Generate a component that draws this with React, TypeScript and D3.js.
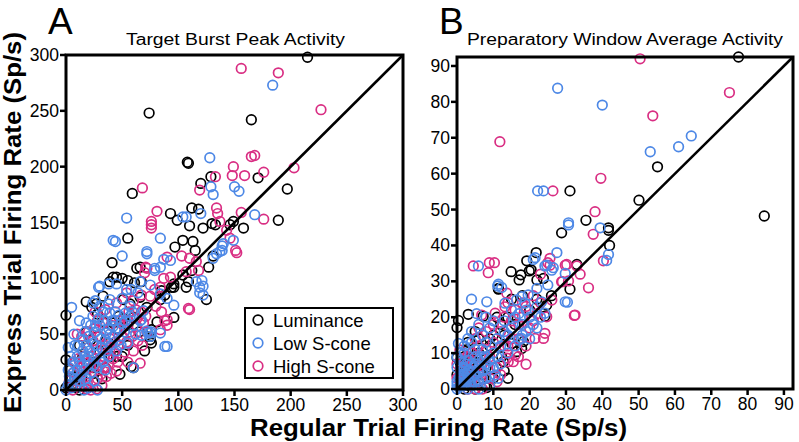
import React from 'react';
import * as d3 from 'd3';

type Pt = [number, number];

// panel A: target burst peak activity (regular, express)
const aLuminance: Pt[] = [
  [215, 298], [74, 248], [165, 242], [108, 204], [109, 203], [129, 191], [171, 190], [120, 185], [59, 176], [197, 180],
  [112, 163], [118, 162], [93, 158], [189, 152], [149, 151], [99, 152], [55, 136], [41, 114], [66, 110], [97, 128],
  [104, 134], [113, 133], [115, 125], [122, 145], [130, 149], [133, 148], [158, 145], [146, 148], [127, 110], [104, 103],
  [109, 97], [96, 92], [125, 81], [96, 65], [81, 61], [76, 54], [76, 42], [75, 48], [67, 97], [61, 96],
  [50, 100], [39, 97], [42, 101], [18, 79], [33, 84], [0, 67], [0, 27], [27, 77], [23, 74], [47, 66],
  [51, 64], [75, 45], [45, 101], [55, 98], [63, 109], [94, 92], [96, 95], [84, 81], [85, 89], [66, 83],
  [72, 74], [51, 81], [57, 77], [107, 92], [112, 107], [131, 120], [110, 147], [45, 30], [58, 21], [24, 20],
  [8, 11], [0, 2], [9, 2], [5, 10], [2, 4], [20, 22], [15, 30], [30, 35], [40, 30], [28, 48],
  [35, 20], [55, 40], [60, 20], [45, 55], [12, 40], [25, 15], [60, 65], [88, 85], [70, 35], [50, 30],
  [35, 60], [22, 45], [12, 0], [25, 25], [4, 18], [14, 10], [38, 42], [42, 60], [55, 58], [65, 52],
  [32, 10], [48, 14], [18, 52], [28, 68],
];
const aLowS: Pt[] = [
  [184, 273], [128, 208], [129, 182], [150, 182], [154, 178], [131, 175], [54, 154], [104, 155], [107, 155], [120, 158],
  [168, 157], [42, 134], [84, 136], [50, 120], [72, 124], [72, 122], [84, 110], [93, 116], [79, 107], [134, 122],
  [139, 125], [140, 131], [149, 134], [116, 97], [119, 92], [122, 85], [75, 94], [84, 86], [90, 82], [96, 76],
  [90, 39], [88, 39], [67, 49], [75, 51], [29, 92], [54, 90], [66, 97], [58, 90], [50, 82], [64, 87],
  [5, 74], [24, 78], [18, 60], [24, 66], [27, 57], [17, 52], [39, 69], [47, 67], [53, 69], [57, 66],
  [50, 60], [42, 57], [36, 51], [67, 63], [73, 51], [76, 52], [84, 51], [30, 93], [44, 133], [38, 95],
  [45, 95], [60, 20], [119, 87], [122, 93], [121, 98], [131, 118], [137, 124], [139, 129], [69, 71], [66, 62],
  [72, 53], [75, 48], [38, 77], [39, 81], [30, 75], [79, 109], [87, 117], [2, 5], [5, 2], [8, 10],
  [10, 18], [12, 25], [15, 35], [18, 40], [20, 30], [22, 15], [25, 8], [28, 20], [30, 28], [32, 38],
  [35, 45], [38, 30], [40, 40], [42, 48], [45, 35], [28, 0], [20, 2], [3, 12], [6, 25], [10, 30],
  [14, 22], [18, 10], [24, 42], [26, 52], [30, 58], [34, 62], [22, 58], [48, 45], [52, 52], [15, 45],
  [8, 40], [4, 30], [38, 55], [44, 62], [60, 58], [55, 42], [35, 18], [12, 8], [0, 0], [2, 18],
  [16, 0], [24, 22], [3, 20], [6, 15], [9, 5], [13, 13], [16, 18], [19, 26], [21, 35], [25, 32],
  [27, 40], [31, 46], [33, 25], [36, 35], [39, 50], [41, 62], [44, 70], [47, 55], [49, 40], [53, 62],
  [57, 75], [59, 70], [62, 50], [20, 48], [17, 30], [11, 40], [7, 50], [2, 38], [29, 64], [33, 70],
  [26, 80], [12, 62],
];
const aHighS: Pt[] = [
  [156, 288], [189, 284], [227, 251], [165, 209], [168, 210], [149, 200], [203, 199], [148, 192], [159, 192], [176, 195],
  [133, 191], [119, 179], [68, 181], [134, 163], [135, 158], [81, 160], [156, 159], [176, 153], [76, 151], [76, 148],
  [76, 145], [71, 110], [103, 120], [110, 118], [90, 119], [137, 151], [143, 143], [146, 136], [151, 125], [152, 123],
  [116, 115], [118, 107], [107, 106], [109, 73], [110, 72], [87, 100], [93, 101], [84, 92], [90, 63], [88, 62],
  [84, 54], [90, 58], [54, 87], [67, 85], [75, 84], [79, 90], [26, 70], [33, 60], [45, 54], [57, 52],
  [63, 57], [69, 60], [72, 52], [54, 43], [50, 48], [44, 43], [39, 36], [33, 36], [66, 24], [45, 17],
  [35, 20], [26, 23], [18, 1], [27, 1], [70, 105], [72, 109], [5, 3], [10, 8], [14, 4], [18, 12],
  [22, 20], [26, 28], [30, 22], [34, 30], [38, 24], [16, 30], [12, 20], [20, 38], [24, 44], [28, 10],
  [36, 12], [42, 28], [8, 25], [40, 15], [46, 25], [52, 34], [30, 48], [20, 52], [14, 48], [48, 62],
  [56, 70], [60, 80], [62, 72], [45, 78], [35, 72], [28, 62], [18, 24], [55, 25], [60, 35], [64, 44],
  [10, 50], [6, 0], [22, 0], [32, 4], [3, 8], [7, 16], [11, 28], [15, 16], [19, 6], [23, 30],
  [27, 36], [31, 14], [35, 40], [39, 46], [43, 34], [47, 40], [51, 58], [55, 62], [59, 48], [63, 64],
  [67, 70], [71, 66], [40, 58], [25, 55], [68, 40], [80, 75], [85, 70],
];

// panel B: preparatory window average activity (regular, express)
const bLuminance: Pt[] = [
  [77.5, 92.5], [55.2, 61.9], [31.1, 55.2], [50.1, 52.6], [84.6, 48.2], [35.5, 47], [41.7, 44.9], [41.7, 44.2], [28.8, 43.5], [42, 40],
  [21.8, 38], [19.2, 35.7], [19.9, 32.9], [33, 34.7], [31.1, 27.8], [14.9, 32.7], [11.4, 27.8], [3.1, 20.8], [0.4, 19.1], [0, 17.1],
  [0, 8.7], [8.2, 0.4], [20.4, 33.2], [17.6, 31.8], [17.1, 30.4], [11.4, 28], [7.2, 20.3], [22, 30.4], [23.8, 30.8], [24.7, 23.4],
  [24.2, 20.3], [18.3, 13.2], [17.8, 11.3], [16.4, 10.4], [15.1, 12.7], [12.3, 9], [12.8, 7.6], [7.7, 0.8], [1, 2], [2, 5],
  [3, 1], [4, 8], [5, 3], [6, 10], [8, 6], [9, 12], [10, 15], [12, 18], [14, 20], [6, 14],
  [3, 11], [2, 0], [5, 0], [0, 4], [20, 22], [22, 25], [26, 26], [16, 18], [13, 5], [10, 3],
  [7, 4], [1, 7], [3, 13], [5, 16], [9, 14], [11, 20], [13, 15], [15, 25], [18, 26], [14, 3],
  [2, 9], [4, 4], [6, 7],
];
const bLowS: Pt[] = [
  [27.7, 83.8], [40, 79.1], [64.5, 70.5], [61, 67.5], [53.2, 66.1], [22.2, 55.2], [23.8, 55.2], [30.7, 46.3], [30.7, 45.7], [39.4, 44.9],
  [41.7, 37.5], [41.2, 35.8], [21, 36.1], [21.5, 36.6], [27.5, 38], [24.2, 34.3], [26.5, 33.8], [11.4, 29.2], [5.9, 34.3], [4, 25],
  [30.4, 24.2], [24.7, 34.5], [26.1, 33.1], [29.8, 32.2], [8.2, 24.3], [11.2, 28.7], [12.3, 28.3], [13.2, 23.9], [16.4, 24.8], [17.8, 25.7],
  [19.6, 26.2], [18.7, 23.9], [22, 22.9], [23.3, 24.3], [24.2, 21.1], [29.8, 24.3], [17.8, 14.1], [16.9, 13.6], [10.5, 3.9], [11.4, 3],
  [5.4, 21], [0.4, 12.7], [0, 0], [1, 1], [2, 2], [3, 3], [1, 4], [2, 6], [4, 5], [5, 7],
  [3, 8], [6, 2], [7, 5], [0, 6], [1, 8], [4, 1], [5, 4], [2, 10], [6, 8], [8, 9],
  [0, 2], [3, 0], [6, 0], [7, 11], [9, 6], [10, 10], [12, 12], [14, 15], [15, 17], [11, 14],
  [13, 19], [16, 20], [18, 18], [20, 20], [19, 16], [21, 18], [9, 17], [7, 15], [4, 13], [22, 28],
  [25, 29], [15, 22], [13, 16], [9, 1], [8, 3], [1, 6], [3, 5], [4, 3], [2, 1], [5, 9],
  [0.5, 3], [1.5, 5], [2.5, 7], [3.5, 2], [4.5, 6], [0, 9], [1, 10], [2, 12], [3, 14], [5, 11],
  [6, 6], [7, 9], [8, 13], [9, 8], [10, 6], [11, 9], [12, 7], [4, 16], [6, 18], [8, 20],
  [10, 19], [14, 10], [16, 12], [18, 15], [20, 14], [22, 17], [17, 21], [19, 22], [23, 20], [0.5, 0.5],
  [1.5, 2.5], [3, 4], [4, 7], [5, 2], [2, 4], [1, 3], [0, 1], [6, 5], [7, 3], [8, 7],
];
const bHighS: Pt[] = [
  [50.4, 92], [75, 82.6], [53.9, 76.1], [11.8, 68.9], [39.6, 58.7], [26.4, 55.2], [38, 49.4], [37.5, 43.1], [40.3, 35.7], [25, 35.2],
  [25.6, 34.5], [30.2, 34.7], [33.9, 32], [36.2, 28.2], [30.7, 30.1], [28.8, 29.9], [32.3, 20.5], [8.9, 35.2], [4.5, 34.3], [8.6, 32.4],
  [19, 6.9], [16, 9.5], [13.7, 8.6], [25.6, 36.4], [29.8, 34.5], [33, 34.3], [29, 29.9], [10.3, 35.2], [13.7, 26.7], [13.2, 22.9],
  [6.8, 20.6], [10.5, 21.1], [26.1, 24.8], [24.7, 20.1], [32.5, 20.6], [21.5, 14.1], [23.8, 14.1], [24.2, 15.5], [16.9, 9], [15.5, 7.6],
  [14.1, 7.6], [0.8, 10.9], [1, 1], [2, 3], [3, 6], [4, 2], [5, 9], [6, 4], [7, 7], [8, 11],
  [9, 3], [10, 13], [11, 6], [12, 16], [14, 12], [15, 19], [16, 22], [18, 20], [19, 23], [20, 17],
  [22, 21], [17, 14], [6, 12], [3, 0], [5, 0], [7, 0], [0, 3], [2, 8], [12, 4], [13, 20],
  [21, 26], [23, 32], [1, 5], [2, 2], [4, 10], [5, 14], [7, 3], [8, 16], [9, 9], [10, 18],
  [11, 2], [13, 12], [15, 14], [17, 18], [19, 12], [21, 19], [23, 24], [18, 24], [14, 24], [0, 7],
  [3, 9], [6, 17],
];

const ticksA = [0, 50, 100, 150, 200, 250, 300];
const ticksB = [0, 10, 20, 30, 40, 50, 60, 70, 80, 90];
const seriesNames = ['Luminance', 'Low S-cone', 'High S-cone'];
const seriesColors = ['#000000', '#4d88e6', '#d92e83'];

const FONT = '"Liberation Sans", Arial, Helvetica, sans-serif';

type PanelProps = {
  letter: string;
  title: string;
  titleX: number;
  titleLen: number;
  left: number;
  right: number;
  top: number;
  bottom: number;
  max: number;
  ticks: number[];
  series: Pt[][];
};

function Panel({ letter, title, titleX, titleLen, left, right, top, bottom, max, ticks, series }: PanelProps) {
  const x = d3.scaleLinear().domain([0, max]).range([left, right]);
  const y = d3.scaleLinear().domain([0, max]).range([bottom, top]);
  // draw order: black, pink, blue
  const order = [0, 2, 1];
  return (
    <g>
      <text x={left - 18} y={34} fontSize={37} fontFamily={FONT}>{letter}</text>
      <text x={titleX} y={45} fontSize={16} fontFamily={FONT} textLength={titleLen} lengthAdjust="spacingAndGlyphs">
        {title}
      </text>
      {order.map(si => (
        <g key={si}>
          {series[si].map((d, i) => (
            <circle key={i} cx={x(d[0])} cy={y(d[1])} r={4.8} fill="none"
              stroke={seriesColors[si]} strokeWidth={1.7} />
          ))}
        </g>
      ))}
      <line x1={x(0)} y1={y(0)} x2={x(max)} y2={y(max)} stroke="#000" strokeWidth={2.5} />
      <rect x={left} y={top} width={right - left} height={bottom - top} fill="none" stroke="#000" strokeWidth={3} />
      {ticks.map(t => (
        <g key={t}>
          <line x1={left - 6} x2={left} y1={y(t)} y2={y(t)} stroke="#000" strokeWidth={2.5} />
          <text x={left - 7} y={y(t) + 6} textAnchor="end" fontSize={17.5} fontFamily={FONT}>{t}</text>
          <line x1={x(t)} x2={x(t)} y1={bottom} y2={bottom + 6} stroke="#000" strokeWidth={2.5} />
          <text x={x(t)} y={bottom + 21} textAnchor="middle" fontSize={17.5} fontFamily={FONT}>{t}</text>
        </g>
      ))}
    </g>
  );
}

export default function App() {
  return (
    <svg width={799} height={442} style={{ position: 'absolute', left: 0, top: 0, background: '#fff' }}>
      <rect width={799} height={442} fill="#fff" />
      <Panel letter="A" title="Target Burst Peak Activity" titleX={126} titleLen={219}
        left={66} right={403} top={55} bottom={390} max={300} ticks={ticksA}
        series={[aLuminance, aLowS, aHighS]} />
      <Panel letter="B" title="Preparatory Window Average Activity" titleX={467} titleLen={316}
        left={457} right={793} top={57} bottom={389} max={92.5} ticks={ticksB}
        series={[bLuminance, bLowS, bHighS]} />

      {/* legend */}
      <g>
        <rect x={245} y={308} width={148} height={70} fill="#fff" stroke="#000" strokeWidth={2} />
        {seriesNames.map((n, i) => (
          <g key={n}>
            <circle cx={258} cy={320 + i * 23} r={4.8} fill="none" stroke={seriesColors[i]} strokeWidth={1.7} />
            <text x={273} y={326.5 + i * 23} fontSize={18.5} fontFamily={FONT}>{n}</text>
          </g>
        ))}
      </g>

      <text x={438.5} y={436} textAnchor="middle" fontSize={23} fontWeight="bold" fontFamily={FONT}
        textLength={377} lengthAdjust="spacingAndGlyphs">Regular Trial Firing Rate (Sp/s)</text>
      <text transform="translate(20.5,222.5) rotate(-90)" textAnchor="middle" fontSize={23} fontWeight="bold"
        fontFamily={FONT} textLength={381} lengthAdjust="spacingAndGlyphs">Express Trial Firing Rate (Sp/s)</text>
    </svg>
  );
}
